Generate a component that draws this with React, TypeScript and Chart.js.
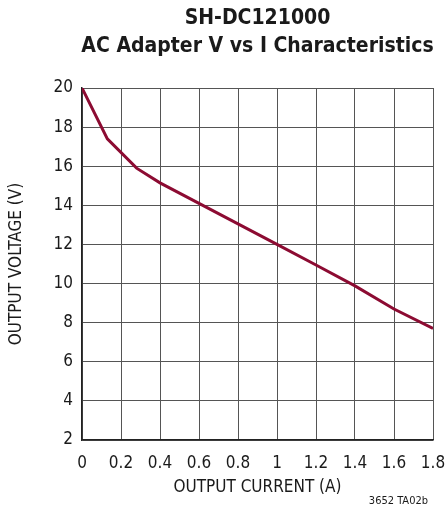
import React, { useEffect, useRef } from "react";
import { Chart, registerables } from "chart.js";

Chart.register(...registerables);

const currentA = [0, 0.13, 0.28, 0.4, 0.6, 0.8, 1.0, 1.2, 1.4, 1.6, 1.8];
const voltageV = [20, 17.4, 15.9, 15.15, 14.1, 13.05, 12.0, 10.95, 9.88, 8.7, 7.7];
const titleLines = ["SH-DC121000", "AC Adapter V vs I Characteristics"];
const footnote = "3652 TA02b";

const FONT = "'Liberation Sans Narrow', 'DejaVu Sans Condensed', 'Liberation Sans', sans-serif";

const textPlugin = {
  id: "textPlugin",
  afterDraw(chart: any) {
    const { ctx, chartArea } = chart;
    const cx = (chartArea.left + chartArea.right) / 2;
    ctx.save();
    ctx.fillStyle = "#1a1a1a";
    ctx.textAlign = "center";
    ctx.textBaseline = "middle";
    ctx.font = `bold 21px ${FONT}`;
    ctx.fillText(titleLines[0], cx, 19);
    ctx.fillText(titleLines[1], cx, 47);
    ctx.font = `11px ${FONT}`;
    ctx.textAlign = "right";
    ctx.fillText(footnote, 428, 501);
    ctx.restore();
  },
};

export default function App() {
  const ref = useRef<HTMLCanvasElement | null>(null);
  useEffect(() => {
    if (!ref.current) return;
    const chart = new Chart(ref.current, {
      type: "line",
      data: {
        datasets: [
          {
            data: currentA.map((x, i) => ({ x, y: voltageV[i] })),
            borderColor: "#8c0b32",
            borderWidth: 3,
            pointRadius: 0,
            tension: 0,
            fill: false,
          },
        ],
      },
      options: {
        animation: false,
        responsive: false,
        devicePixelRatio: 1,
        layout: { padding: { top: 88, right: 13, left: 0, bottom: 20 } },
        plugins: { legend: { display: false }, tooltip: { enabled: false } },
        scales: {
          x: {
            type: "linear",
            min: 0,
            max: 1.8,
            ticks: {
              stepSize: 0.2,
              color: "#1a1a1a",
              font: { family: FONT, size: 17 },
              padding: 13,
              maxRotation: 0,
              callback: (v: any) => String(Number(Number(v).toFixed(1))),
            },
            grid: { color: "#555", lineWidth: 1, drawTicks: false },
            border: { color: "#222", width: 1.5 },
            title: {
              display: true,
              text: "OUTPUT CURRENT (A)",
              color: "#1a1a1a",
              font: { family: FONT, size: 17 },
              padding: { top: 4, bottom: 0 },
            },
            afterFit: (s: any) => {
              s.height = 58;
              s.paddingLeft = 0;
              s.paddingRight = 0;
            },
          },
          y: {
            min: 2,
            max: 20,
            ticks: {
              stepSize: 2,
              color: "#1a1a1a",
              font: { family: FONT, size: 17 },
              padding: 9,
            },
            grid: { color: "#555", lineWidth: 1, drawTicks: false },
            border: { color: "#222", width: 1.5 },
            title: {
              display: true,
              text: "OUTPUT VOLTAGE (V)",
              color: "#1a1a1a",
              font: { family: FONT, size: 17 },
              padding: { top: 6, bottom: 0 },
            },
            afterFit: (s: any) => {
              s.width = 82;
              s.paddingTop = 0;
              s.paddingBottom = 0;
            },
          },
        },
      },
      plugins: [textPlugin],
    });
    return () => chart.destroy();
  }, []);
  return (
    <div style={{ position: "fixed", left: 0, top: 0, width: 446, height: 518, background: "#fff" }}>
      <canvas ref={ref} width={446} height={518} style={{ width: 446, height: 518, display: "block" }} />
    </div>
  );
}
